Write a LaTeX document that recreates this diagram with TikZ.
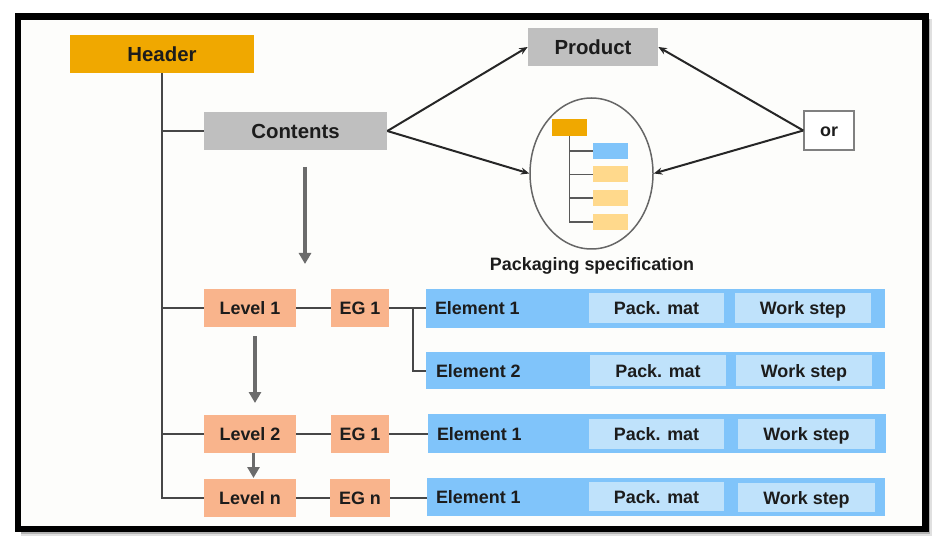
\documentclass[tikz,border=0pt]{standalone}
\usepackage{fontspec}
\setmainfont{Liberation Sans}
\usetikzlibrary{arrows.meta,shapes.geometric}
\definecolor{headerorange}{HTML}{F0A800}
\definecolor{contentsgray}{HTML}{BFBFBF}
\definecolor{levelsalmon}{HTML}{F9B48C}
\definecolor{barblue}{HTML}{80C4FA}
\definecolor{cellblue}{HTML}{BFE2FB}
\definecolor{minibar}{HTML}{FFD98C}
\definecolor{inkdark}{HTML}{1C1C1C}
\definecolor{paper}{HTML}{FDFDFB}
\tikzset{
  bigbox/.style={inner sep=0pt, minimum height=0.76cm, text=inkdark, text height=0.29cm, text depth=0cm, font=\fontsize{11.6}{14}\selectfont\bfseries},
  smallbox/.style={inner sep=0pt, minimum height=0.76cm, text=inkdark, text height=0.26cm, text depth=0cm, font=\fontsize{10.2}{12}\selectfont\bfseries},
  levelbox/.style={smallbox, fill=levelsalmon, minimum width=1.84cm},
  groupbox/.style={smallbox, fill=levelsalmon, minimum width=1.16cm},
  elementbar/.style={inner sep=0pt, fill=barblue, minimum width=9.18cm, minimum height=0.78cm},
  elementname/.style={smallbox, anchor=west, minimum height=0pt},
  cellbox/.style={smallbox, fill=cellblue, minimum width=2.72cm, minimum height=0.6cm},
  minibox/.style={inner sep=0pt, minimum width=0.7cm, minimum height=0.32cm},
  treeline/.style={line width=0.04cm, draw=black!72},
  thinline/.style={line width=0.032cm, draw=black!65},
  linkarrow/.style={line width=0.04cm, draw=black!85, -{Stealth[length=0.17cm,width=0.14cm]}},
  flowarrow/.style={line width=0.07cm, draw=black!58, -{Triangle[length=0.22cm,width=0.24cm]}}
}
\begin{document}
\begin{tikzpicture}
\useasboundingbox (0,0) rectangle (18.8,10.88);

% Drawing the page and its frame
\fill [white] (0,0) rectangle (18.8,10.88);
\fill [black!12] (0.42,0.16) rectangle (18.64,10.50);
\fill [black!30] (0.42,0.21) rectangle (18.60,10.50);
\draw [fill=paper, line width=0.128cm] (0.36,0.30) rectangle (18.51,10.55);

% Drawing header and contents
\node [bigbox, fill=headerorange, minimum width=3.68cm] (header) at (3.24,9.80) {Header};
\node [bigbox, fill=contentsgray, minimum width=3.66cm] (contents) at (5.91,8.26) {Contents};
\node [bigbox, fill=contentsgray, minimum width=2.60cm] (product) at (11.86,9.94) {Product};

% Drawing the or box
\node [smallbox, draw=black!50, line width=0.03cm, fill=white, minimum width=1.00cm, minimum height=0.78cm] (orbox) at (16.58,8.27) {or};

% Drawing the packaging specification ellipse
\node [ellipse, draw=black!60, line width=0.03cm, inner sep=0pt, minimum width=2.46cm, minimum height=3.02cm] (spec) at (11.83,7.41) {};
\node [minibox, fill=headerorange, minimum height=0.34cm] (specHead) at (11.39,8.33) {};
\node [minibox, fill=barblue] (specBlue) at (12.21,7.86) {};
\node [minibox, fill=minibar] (specYellowA) at (12.21,7.39) {};
\node [minibox, fill=minibar] (specYellowB) at (12.21,6.92) {};
\node [minibox, fill=minibar] (specYellowC) at (12.21,6.44) {};
\node [smallbox, minimum height=0pt] (specLabel) at (11.84,5.59) {Packaging specification};

% Drawing the tree inside the ellipse
\draw [thinline] (specHead.south) |- (specBlue.west);
\draw [thinline] (specHead.south) |- (specYellowA.west);
\draw [thinline] (specHead.south) |- (specYellowB.west);
\draw [thinline] (specHead.south) |- (specYellowC.west);

% Drawing levels
\node [levelbox] (levelA) at (5.00,4.72) {Level 1};
\node [levelbox] (levelB) at (5.00,2.20) {Level 2};
\node [levelbox] (levelN) at (5.00,0.93) {Level n};

% Drawing element groups
\node [groupbox] (groupA) at (7.20,4.72) {EG 1};
\node [groupbox] (groupB) at (7.20,2.20) {EG 1};
\node [groupbox, minimum width=1.20cm] (groupN) at (7.20,0.93) {EG n};

% Drawing element bars
\node [elementbar] (barA) at (13.11,4.71) {};
\node [elementbar, minimum height=0.74cm] (barC) at (13.11,3.47) {};
\node [elementbar, minimum width=9.16cm] (barB) at (13.14,2.21) {};
\node [elementbar, minimum width=9.16cm, minimum height=0.76cm] (barN) at (13.12,0.94) {};

% Marking element names
\node [elementname] (nameA) at ([xshift=0.18cm]barA.west) {Element 1};
\node [elementname] (nameC) at ([xshift=0.20cm]barC.west) {Element 2};
\node [elementname] (nameB) at ([xshift=0.18cm]barB.west) {Element 1};
\node [elementname] (nameN) at ([xshift=0.18cm]barN.west) {Element 1};

% Drawing pack. mat cells
\node [cellbox, minimum width=2.70cm] (packA) at (13.13,4.72) {Pack. mat};
\node [cellbox, minimum height=0.62cm] (packC) at (13.16,3.47) {Pack. mat};
\node [cellbox, minimum width=2.70cm] (packB) at (13.13,2.20) {Pack. mat};
\node [cellbox, minimum width=2.70cm, minimum height=0.58cm] (packN) at (13.13,0.95) {Pack. mat};

% Drawing work step cells
\node [cellbox] (workA) at (16.06,4.72) {Work step};
\node [cellbox, minimum height=0.62cm] (workC) at (16.08,3.47) {Work step};
\node [cellbox, minimum width=2.74cm] (workB) at (16.13,2.20) {Work step};
\node [cellbox, minimum width=2.74cm, minimum height=0.58cm] (workN) at (16.13,0.93) {Work step};

% Drawing the spine with its branches
\draw [treeline] (header.south) |- (levelN.west);
\draw [treeline] (header.south |- contents.west) -- (contents.west);
\draw [treeline] (header.south |- levelA.west) -- (levelA.west);
\draw [treeline] (header.south |- levelB.west) -- (levelB.west);

% Drawing level to group to element lines
\draw [treeline] (levelA.east) -- (groupA.west);
\draw [treeline] (levelB.east) -- (groupB.west);
\draw [treeline] (levelN.east) -- (groupN.west);
\draw [treeline] (groupA.east) -- (groupA.east -| barA.west);
\draw [treeline] (groupB.east) -- (groupB.east -| barB.west);
\draw [treeline] (groupN.east) -- (groupN.east -| barN.west);
\coordinate (elementFork) at (8.26,4.72);
\draw [treeline] (elementFork) |- (barC.west);

% Drawing arrows to product and specification
\draw [linkarrow] (contents.east) -- (product.west);
\draw [linkarrow] (contents.east) -- (spec.west);
\draw [linkarrow] (orbox.west) -- (product.east);
\draw [linkarrow] (orbox.west) -- (spec.east);

% Drawing the gray downward arrows
\coordinate (contentsFrom) at (6.10,7.54);
\coordinate (contentsTo) at (6.10,5.60);
\coordinate (levelFrom) at (5.10,4.16);
\coordinate (levelTo) at (5.10,2.82);
\coordinate (nextFrom) at (5.07,1.82);
\coordinate (nextTo) at (5.07,1.32);
\draw [flowarrow] (contentsFrom) -- (contentsTo);
\draw [flowarrow] (levelFrom) -- (levelTo);
\draw [flowarrow] (nextFrom) -- (nextTo);
\end{tikzpicture}
\end{document}
